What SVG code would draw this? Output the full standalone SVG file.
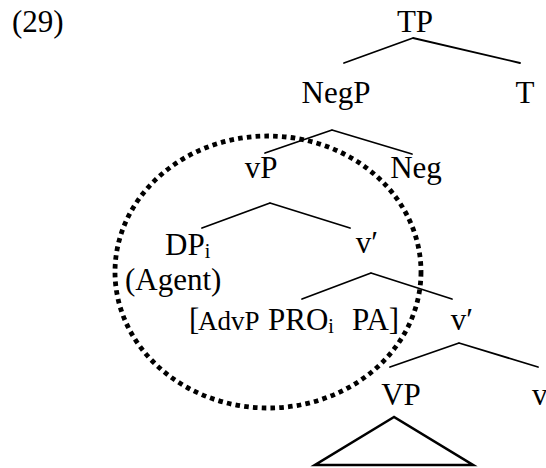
<svg xmlns="http://www.w3.org/2000/svg" width="546" height="468" viewBox="0 0 546 468" font-family="Liberation Serif, Times New Roman, DejaVu Serif, serif">
<style>
text{font-family:'Liberation Serif','Times New Roman','DejaVu Serif',serif;font-size:31px;fill:#000}
.m{text-anchor:middle}
.sub{font-size:20px}
.sm{font-size:27px}
.edge{stroke:#000;stroke-width:1.8;fill:none;stroke-linecap:round}
.tri{stroke:#000;stroke-width:2.6;fill:none;stroke-linejoin:miter}
.circ{stroke:#000;stroke-width:4.8;fill:none;stroke-dasharray:4.6 4.2}
</style>
<rect width="546" height="468" fill="#fff"/>
<text id="label" x="12" y="32">(29)</text>
<g id="connectors">
<path class="edge" d="M413 38L344 63M413 38L520 63"/>
<path class="edge" d="M332 130L265 153M332 130L412 154"/>
<path class="edge" d="M270 203L202 228M270 203L350 228"/>
<path class="edge" d="M371 273L302 299M371 273L452 299"/>
<path class="edge" d="M459 343L390 367M459 343L538 367"/>
<path class="tri" d="M394 417L315 465L473 465Z"/>
</g>
<g id="TP"><text class="m" x="415" y="32">TP</text></g>
<g id="NegP"><text class="m" x="336" y="103">NegP</text></g>
<g id="T"><text class="m" x="525" y="103">T</text></g>
<g id="vP"><text class="m" x="261" y="178">vP</text></g>
<g id="Neg"><text class="m" x="416" y="178">Neg</text></g>
<g id="DPi"><text x="165" y="255">DP<tspan class="sub" dy="3">i</tspan></text><text x="125" y="290">(Agent)</text></g>
<g id="vbar1"><text class="m" x="367" y="253">v′</text></g>
<g id="AdvP"><text x="189" y="330">[</text><text class="sm" x="198" y="330">AdvP</text><text x="268" y="330">PRO<tspan class="sub" dy="3">i</tspan></text><text x="352" y="330">PA]</text></g>
<g id="vbar2"><text class="m" x="462" y="330">v′</text></g>
<g id="VP"><text class="m" x="401" y="405">VP</text></g>
<g id="v"><text x="532" y="405">v</text></g>
<g id="circle"><ellipse class="circ" cx="268" cy="272" rx="153" ry="136"/></g>
</svg>
